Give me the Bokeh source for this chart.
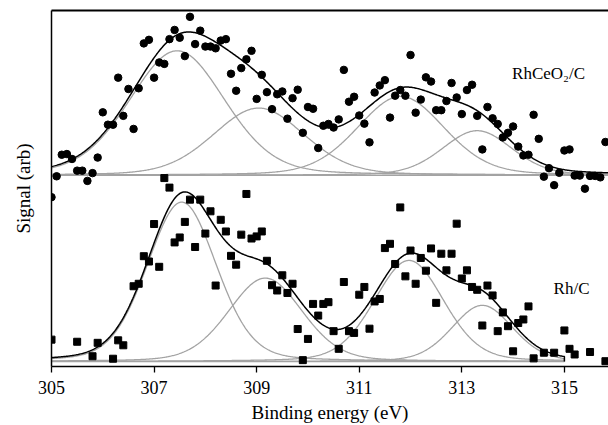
import numpy as np
from bokeh.plotting import figure
from bokeh.models import Range1d, LinearAxis, FixedTicker, Label
from bokeh.embed import file_html
from bokeh.resources import INLINE

# ---------------- data ----------------
energy = [305.0, 305.1, 305.2, 305.3, 305.4, 305.5, 305.6, 305.7, 305.8, 305.9,
          306.0, 306.1, 306.2, 306.3, 306.4, 306.5, 306.6, 306.7, 306.8, 306.9,
          307.0, 307.1, 307.2, 307.3, 307.4, 307.5, 307.6, 307.7, 307.8, 307.9,
          308.0, 308.1, 308.2, 308.3, 308.4, 308.5, 308.6, 308.7, 308.8, 308.9,
          309.0, 309.1, 309.2, 309.3, 309.4, 309.5, 309.6, 309.7, 309.8, 309.9,
          310.0, 310.1, 310.2, 310.3, 310.4, 310.5, 310.6, 310.7, 310.8, 310.9,
          311.0, 311.1, 311.2, 311.3, 311.4, 311.5, 311.6, 311.7, 311.8, 311.9,
          312.0, 312.1, 312.2, 312.3, 312.4, 312.5, 312.6, 312.7, 312.8, 312.9,
          313.0, 313.1, 313.2, 313.3, 313.4, 313.5, 313.6, 313.7, 313.8, 313.9,
          314.0, 314.1, 314.2, 314.3, 314.4, 314.5, 314.6, 314.7, 314.8, 314.9,
          315.0, 315.1, 315.2, 315.3, 315.4, 315.5, 315.6, 315.7, 315.8]

# RhCeO2/C (upper trace, stacked)
rhceo2_signal = [4.72, 5.31, 5.92, 5.94, 5.80, 5.47, 5.47, 5.18, 5.40, 5.84,
                 7.12, 6.77, 6.77, 8.10, 7.02, 7.78, 6.65, 7.80, 9.07, 9.17,
                 8.10, 8.53, 8.49, 9.19, 9.45, 9.23, 8.71, 9.82, 9.05, 9.43,
                 8.98, 8.98, 8.93, 9.15, 9.19, 8.21, 7.73, 8.37, 8.62, 8.86,
                 7.50, 8.18, 7.69, 7.21, 7.63, 7.71, 6.94, 7.52, 7.76, 6.54,
                 7.27, 7.22, 6.11, 6.74, 6.79, 6.69, 6.92, 8.32, 7.42, 7.56,
                 7.03, 6.80, 6.27, 7.68, 7.88, 8.03, 6.97, 7.59, 7.75, 7.59,
                 8.74, 7.11, 7.48, 8.11, 7.99, 7.18, 7.18, 7.44, 7.95, 7.54,
                 7.07, 7.75, 7.90, 7.02, 6.07, 7.27, 6.95, 6.79, 6.41, 6.54,
                 6.72, 6.15, 5.90, 5.92, 7.05, 6.37, 5.30, 5.54, 5.06, 5.41,
                 6.04, 6.07, 5.33, 5.33, 4.96, 5.32, 5.32, 5.28, 6.28]

# Rh/C (lower trace); None = point not visible in the picture
rh_signal = [0.69, None, None, None, None, 0.63, None, None, 0.22, 0.60,
             None, None, 0.15, 0.67, 0.53, None, 2.20, 2.27, 3.05, 2.90,
             3.96, 2.75, 5.26, 4.99, 3.44, 3.58, 4.02, 4.65, 3.31, 4.65,
             3.69, 4.32, 2.22, 4.08, 3.75, 3.06, 2.81, 3.66, 4.81, 3.55,
             3.61, 3.75, 2.92, 2.23, 2.08, 2.51, 2.01, 2.27, 0.99, 0.11,
             0.71, 1.70, 1.37, 1.70, 1.75, 0.93, 0.43, 2.32, 0.93, 0.88,
             1.96, 2.18, 1.00, 1.77, 1.84, 3.28, 3.40, 2.83, 4.43, 2.48,
             3.21, 2.27, 3.00, 2.64, 3.27, 1.73, 3.12, 2.65, 3.12, 3.97,
             2.42, 2.65, 2.18, 2.10, 1.09, 2.22, 1.94, 0.93, 1.46, 1.07,
             0.36, 1.16, 1.26, 1.63, 0.16, None, 0.32, None, 0.32, None,
             0.95, 0.43, 0.27, None, None, 0.34, None, None, 0.08]

# fitted peak components (centre eV, height, FWHM eV) and backgrounds
rhceo2_baseline = 5.34
rhceo2_centres = [307.45, 309.04, 311.81, 313.30]
rhceo2_heights = [3.52, 1.90, 2.23, 1.26]
rhceo2_fwhm = [2.2, 2.1, 2.0, 1.6]
rhceo2_fit_end = 315.86

rh_baseline = 0.07
rh_centres = [307.54, 309.17, 311.97, 313.40]
rh_heights = [4.51, 2.36, 2.86, 1.59]
rh_fwhm = [1.6, 1.7, 1.6, 1.4]
rh_fit_end = 315.0

lorentz_fraction = 0.2
tick_values = [305, 307, 309, 311, 313, 315]
x_label = "Binding energy (eV)"
y_label = "Signal (arb)"
name_top = "RhCeO\u2082/C"
name_bottom = "Rh/C"

# ---------------- figure ----------------
FONT = "Liberation Serif"
GRAY = "#a3a3a3"

p = figure(width=608, height=425, output_backend="svg", toolbar_location=None,
           x_range=Range1d(305, 315.86), y_range=Range1d(-0.07, 10.0),
           min_border_left=51, min_border_right=0, min_border_top=10,
           min_border_bottom=58)
p.outline_line_color = None
p.xgrid.grid_line_color = None
p.ygrid.grid_line_color = None
p.background_fill_color = "white"
p.border_fill_color = "white"


def pseudo_voigt(x, c, h, w, m):
    g = np.exp(-4 * np.log(2) * (x - c) ** 2 / w ** 2)
    l = 1.0 / (1 + 4 * (x - c) ** 2 / w ** 2)
    return h * ((1 - m) * g + m * l)


def draw_fit(x0, x1, base, centres, heights, fwhm, drop_end):
    xs = np.linspace(x0, x1, 600)
    comps = [pseudo_voigt(xs, c, h, w, lorentz_fraction)
             for c, h, w in zip(centres, heights, fwhm)]
    p.line([x0, x1], [base, base], line_color=GRAY, line_width=1.3)
    for comp in comps:
        ys = base + comp
        xx, yy = list(xs), list(ys)
        if drop_end:
            xx.append(x1); yy.append(base)
        p.line(xx, yy, line_color=GRAY, line_width=1.3)
    env = base + sum(comps)
    xx, yy = list(xs), list(env)
    if drop_end:
        xx.append(x1); yy.append(base)
    p.line(xx, yy, line_color="black", line_width=1.5)


draw_fit(305.0, rhceo2_fit_end, rhceo2_baseline, rhceo2_centres,
         rhceo2_heights, rhceo2_fwhm, False)
draw_fit(305.0, rh_fit_end, rh_baseline, rh_centres,
         rh_heights, rh_fwhm, True)

rh_vals = [np.nan if v is None else v for v in rh_signal]
p.scatter(energy, rhceo2_signal, marker="circle", size=7.5, fill_color="black",
          line_color="black")
p.scatter(energy, rh_vals, marker="square", size=7, fill_color="black",
          line_color="black")

# axes
xa = p.xaxis[0]
xa.ticker = FixedTicker(ticks=tick_values)
xa.minor_tick_line_color = None
xa.major_tick_in = 0
xa.major_tick_out = 6
xa.axis_line_width = 1.5
xa.axis_line_color = "black"
xa.major_tick_line_color = "black"
xa.major_tick_line_width = 1.3
xa.major_label_text_font = FONT
xa.major_label_text_font_size = "18px"
xa.major_label_text_color = "black"
xa.major_label_standoff = 8
xa.axis_label = x_label
xa.axis_label_text_font = FONT
xa.axis_label_text_font_size = "19px"
xa.axis_label_text_font_style = "normal"
xa.axis_label_text_color = "black"
xa.axis_label_standoff = 5

ya = p.yaxis[0]
ya.ticker = FixedTicker(ticks=[])
ya.minor_tick_line_color = None
ya.major_tick_line_color = None
ya.axis_line_width = 1.5
ya.axis_line_color = "black"
ya.axis_label = y_label
ya.axis_label_text_font = FONT
ya.axis_label_text_font_size = "19px"
ya.axis_label_text_font_style = "normal"
ya.axis_label_text_color = "black"
ya.axis_label_standoff = 18

top_axis = LinearAxis(ticker=FixedTicker(ticks=[]), axis_line_width=1.8,
                      axis_line_color="black",
                      major_tick_line_color=None, minor_tick_line_color=None,
                      major_label_text_font_size="0px")
p.add_layout(top_axis, "above")

p.add_layout(Label(x=313.98, y=8.23, text=name_top, text_font=FONT,
                   text_font_size="17px", text_baseline="alphabetic",
                   text_color="black"))
p.add_layout(Label(x=314.79, y=2.15, text=name_bottom, text_font=FONT,
                   text_font_size="17px", text_baseline="alphabetic",
                   text_color="black"))

open("out.html", "w").write(file_html(p, INLINE))
